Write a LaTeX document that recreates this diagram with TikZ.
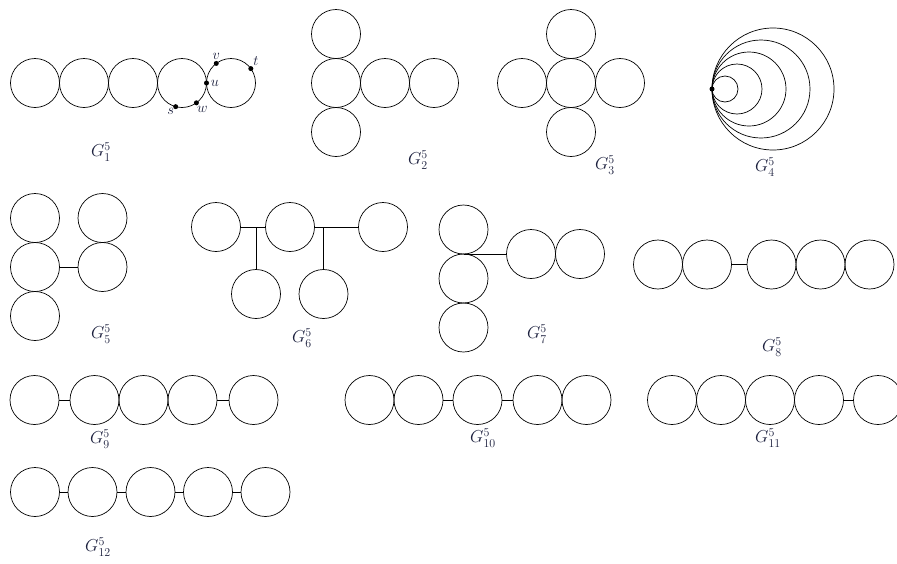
\documentclass[tikz,border=0pt]{standalone}
\usepackage{xcolor}
\usepackage{tikz}
\usetikzlibrary{positioning, calc}
\definecolor{labelink}{RGB}{28, 32, 62}

\begin{document}
\begin{tikzpicture}[x=1pt, y=-1pt,
    ring/.style={circle, draw, line width=0.7pt, minimum size=49pt, inner sep=0pt, outer sep=0pt},
    loopring/.style={circle, draw, line width=0.7pt, inner sep=0pt, outer sep=0pt},
    link/.style={line width=0.7pt},
    vtx/.style={circle, fill=black, inner sep=0pt, minimum size=5pt},
    vlab/.style={font=\Large, text=labelink, inner sep=0.5pt},
    glab/.style={font=\LARGE, text=labelink}]
    \useasboundingbox (0,0) rectangle (897,563);

    % G1: chain of five touching rings
    \foreach \i/\x in {a/35, b/84, c/133, d/182, e/231}
        \node[ring] (g1\i) at (\x,83) {};
    \node[vtx] (u) at (g1d.east) {};
    \node[vtx] (s) at (g1d.-105) {};
    \node[vtx] (w) at (g1d.-54) {};
    \node[vtx] (v) at (g1e.127) {};
    \node[vtx] (t) at (g1e.36) {};
    \node[vlab, right=1pt of u] {$u$};
    \node[vlab, below left=-1pt and -1pt of s] {$s$};
    \node[vlab, below right=1pt and -2pt of w] {$w$};
    \node[vlab, above=1pt of v] {$v$};
    \node[vlab, above right=0pt and 0pt of t] {$t$};
    \node[glab] (l1) at (101,152) {$G_1^5$};

    % G2
    \foreach \i/\x/\y in {a/336/34, b/336/83, c/385/83, d/434/83, e/336/132}
        \node[ring] (g2\i) at (\x,\y) {};
    \node[glab] (l2) at (418,160) {$G_2^5$};

    % G3
    \foreach \i/\x/\y in {a/571/34, b/522/83, c/571/83, d/620/83, e/571/132}
        \node[ring] (g3\i) at (\x,\y) {};
    \node[glab] (l3) at (605,165) {$G_3^5$};

    % G4: nested rings through one point
    \coordinate (g4p) at (712,89);
    \foreach \d in {26,50,74,98,122}
        \node[loopring, minimum size=\d pt, anchor=west] (g4c\d) at (g4p) {};
    \node[vtx] (g4v) at (g4p) {};
    \node[glab] (l4) at (765,167) {$G_4^5$};

    % G5
    \foreach \i/\x/\y in {a/35/218, b/35/267, c/35/316, d/102.5/218, e/102.5/267}
        \node[ring] (g5\i) at (\x,\y) {};
    \draw[link] (g5b.east) -- (g5e.west);
    \node[glab] (l5) at (101,334) {$G_5^5$};

    % G6
    \foreach \i/\x/\y in {a/216/227, b/290/227, c/383/227, d/256/294, e/323.5/294}
        \node[ring] (g6\i) at (\x,\y) {};
    \draw[link] (g6a.east) -- (g6b.west);
    \draw[link] (g6b.east) -- (g6c.west);
    \draw[link] (g6d.north) -- (g6d.north |- g6a.center);
    \draw[link] (g6e.north) -- (g6e.north |- g6b.center);
    \node[glab] (l6) at (302,338) {$G_6^5$};

    % G7
    \foreach \i/\x/\y in {a/463.5/229.5, b/463.5/278.5, c/463.5/327.5, d/531/254, e/580/254}
        \node[ring] (g7\i) at (\x,\y) {};
    \draw[link] (g7a.south) -- (g7d.west);
    \node[glab] (l7) at (537,334) {$G_7^5$};

    % G8
    \foreach \i/\x in {a/658, b/707, c/771.5, d/820.5, e/869.5}
        \node[ring] (g8\i) at (\x,264.5) {};
    \draw[link] (g8b.east) -- (g8c.west);
    \node[glab] (l8) at (772,347) {$G_8^5$};

    % G9
    \foreach \i/\x in {a/34.5, b/94.5, c/143.5, d/192.5, e/253.5}
        \node[ring] (g9\i) at (\x,400) {};
    \draw[link] (g9a.east) -- (g9b.west);
    \draw[link] (g9d.east) -- (g9e.west);
    \node[glab] (l9) at (100,439) {$G_9^5$};

    % G10
    \foreach \i/\x in {a/369.5, b/418.5, c/477.5, d/537.5, e/586.5}
        \node[ring] (g10\i) at (\x,400) {};
    \draw[link] (g10b.east) -- (g10c.west);
    \draw[link] (g10c.east) -- (g10d.west);
    \node[glab] (l10) at (483,438) {$G_{10}^5$};

    % G11
    \foreach \i/\x in {a/672, b/721, c/770, d/819, e/878}
        \node[ring] (g11\i) at (\x,400) {};
    \draw[link] (g11d.east) -- (g11e.west);
    \node[glab] (l11) at (768,438) {$G_{11}^5$};

    % G12
    \foreach \i/\x in {a/35, b/92.5, c/150.5, d/208, e/265.5}
        \node[ring] (g12\i) at (\x,492) {};
    \draw[link] (g12a.east) -- (g12b.west);
    \draw[link] (g12b.east) -- (g12c.west);
    \draw[link] (g12c.east) -- (g12d.west);
    \draw[link] (g12d.east) -- (g12e.west);
    \node[glab] (l12) at (98,547) {$G_{12}^5$};
\end{tikzpicture}
\end{document}
